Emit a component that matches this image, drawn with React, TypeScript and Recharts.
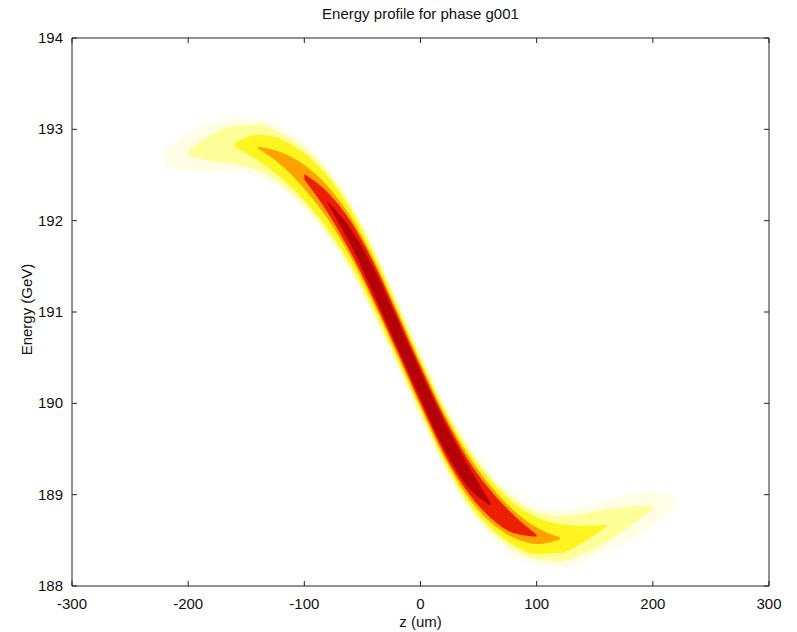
import { ComposedChart, Area, XAxis, YAxis } from 'recharts';

const Z_POSITIONS = [
  -220, -200, -180, -160, -140, -120, -100, -80, -60, -40, -20, 0,
  20, 40, 60, 80, 100, 120, 140, 160, 180, 200, 220,
];

// centre of the density band (GeV)
const ENERGY_CENTER = [
  192.7, 192.74, 192.8, 192.83, 192.8, 192.68, 192.48, 192.2, 191.82, 191.33, 190.77, 190.2,
  189.66, 189.22, 188.9, 188.68, 188.55, 188.52, 188.57, 188.66, 188.76, 188.86, 188.92,
];

// half height of each density level (GeV), null where the level is not seen
const HALO_HALF = [
  0.09, 0.21, 0.26, 0.29, 0.31, 0.34, 0.37, 0.39, 0.4, 0.4, 0.38, 0.37,
  0.37, 0.37, 0.36, 0.34, 0.32, 0.31, 0.3, 0.28, 0.25, 0.18, 0.05,
];
const LIGHT_HALF = [
  null, 0.03, 0.15, 0.21, 0.25, 0.28, 0.31, 0.34, 0.35, 0.35, 0.33, 0.32,
  0.32, 0.32, 0.3, 0.28, 0.26, 0.25, 0.22, 0.18, 0.11, 0.02, null,
];
const YELLOW_HALF = [
  null, null, null, 0.02, 0.14, 0.21, 0.26, 0.29, 0.3, 0.3, 0.29, 0.28,
  0.28, 0.28, 0.26, 0.23, 0.2, 0.16, 0.09, 0.01, null, null, null,
];
const ORANGE_HALF = [
  null, null, null, null, 0.01, 0.07, 0.13, 0.18, 0.22, 0.24, 0.24, 0.24,
  0.24, 0.23, 0.2, 0.15, 0.09, 0.01, null, null, null, null, null,
];
const RED_HALF = [
  null, null, null, null, null, null, 0.03, 0.11, 0.17, 0.2, 0.2, 0.2,
  0.2, 0.18, 0.15, 0.1, 0.01, null, null, null, null, null, null,
];
const CORE_HALF = [
  null, null, null, null, null, null, null, 0.01, 0.09, 0.14, 0.15, 0.15,
  0.15, 0.12, 0.02, null, null, null, null, null, null, null, null,
];

const X_TICKS = [-300, -200, -100, 0, 100, 200, 300];
const Y_TICKS = [188, 189, 190, 191, 192, 193, 194];

const LEVELS = [
  { key: 'halo', half: HALO_HALF, color: '#fffde4' },
  { key: 'light', half: LIGHT_HALF, color: '#ffff9a' },
  { key: 'yellow', half: YELLOW_HALF, color: '#fff51e' },
  { key: 'orange', half: ORANGE_HALF, color: '#ffa200' },
  { key: 'red', half: RED_HALF, color: '#ec2000' },
  { key: 'core', half: CORE_HALF, color: '#b50008' },
];

const data = Z_POSITIONS.map((z, i) => {
  const row: any = { z };
  LEVELS.forEach((lvl) => {
    const h = lvl.half[i];
    row[lvl.key] = h == null ? null : [ENERGY_CENTER[i] - h, ENERGY_CENTER[i] + h];
  });
  return row;
});

const FONT = '"Liberation Sans", Arial, sans-serif';
const TICK_LEN = 5;

const BottomTick = ({ x, y, payload }: any) => (
  <g>
    <line x1={x} y1={y} x2={x} y2={y - TICK_LEN} stroke="#222" />
    <text x={x} y={y + 23} textAnchor="middle" fontSize={15} fontFamily={FONT} fill="#111">
      {payload.value}
    </text>
  </g>
);

const TopTick = ({ x, y }: any) => (
  <line x1={x} y1={y} x2={x} y2={y + TICK_LEN} stroke="#222" />
);

const LeftTick = ({ x, y, payload }: any) => (
  <g>
    <line x1={x} y1={y} x2={x + TICK_LEN} y2={y} stroke="#222" />
    <text x={x - 9} y={y + 5} textAnchor="end" fontSize={15} fontFamily={FONT} fill="#111">
      {payload.value}
    </text>
  </g>
);

const RightTick = ({ x, y }: any) => (
  <line x1={x} y1={y} x2={x - TICK_LEN} y2={y} stroke="#222" />
);

export default function App() {
  return (
    <div style={{ position: 'relative', width: 797, height: 632, background: '#fff' }}>
      <style>{'body { margin: 0; }'}</style>
      <ComposedChart
        width={797}
        height={632}
        data={data}
        margin={{ top: 37, right: 27, bottom: 16, left: 12 }}
      >
        <XAxis
          dataKey="z"
          type="number"
          domain={[-300, 300]}
          ticks={X_TICKS}
          height={30}
          tickSize={0}
          tickMargin={0}
          tickLine={false}
          tick={<BottomTick />}
          axisLine={{ stroke: '#222' }}
          allowDataOverflow
        />
        <XAxis
          xAxisId="top"
          orientation="top"
          dataKey="z"
          type="number"
          domain={[-300, 300]}
          ticks={X_TICKS}
          height={1}
          tickSize={0}
          tickMargin={0}
          tickLine={false}
          tick={<TopTick />}
          axisLine={{ stroke: '#222' }}
          allowDataOverflow
        />
        <YAxis
          type="number"
          domain={[188, 194]}
          ticks={Y_TICKS}
          width={60}
          tickSize={0}
          tickMargin={0}
          tickLine={false}
          tick={<LeftTick />}
          axisLine={{ stroke: '#222' }}
          allowDataOverflow
        />
        <YAxis
          yAxisId="right"
          orientation="right"
          type="number"
          domain={[188, 194]}
          ticks={Y_TICKS}
          width={1}
          tickSize={0}
          tickMargin={0}
          tickLine={false}
          tick={<RightTick />}
          axisLine={{ stroke: '#222' }}
          allowDataOverflow
        />
        {LEVELS.map((lvl) => (
          <Area
            key={lvl.key}
            dataKey={lvl.key}
            type="monotone"
            stroke="none"
            fill={lvl.color}
            fillOpacity={1}
            dot={false}
            activeDot={false}
            isAnimationActive={false}
          />
        ))}
      </ComposedChart>
      <div
        style={{
          position: 'absolute', left: 72, width: 697, top: 5, textAlign: 'center',
          fontFamily: FONT, fontSize: 15, color: '#111',
        }}
      >
        Energy profile for phase g001
      </div>
      <div
        style={{
          position: 'absolute', left: 72, width: 697, top: 613, textAlign: 'center',
          fontFamily: FONT, fontSize: 15, color: '#111', lineHeight: '17px',
        }}
      >
        z (um)
      </div>
      <div
        style={{
          position: 'absolute', left: 26, top: 310, width: 0, height: 0,
        }}
      >
        <div
          style={{
            position: 'absolute', left: -80, top: -9, width: 160, textAlign: 'center',
            transform: 'rotate(-90deg)', fontFamily: FONT, fontSize: 15, color: '#111',
            whiteSpace: 'nowrap',
          }}
        >
          Energy (GeV)
        </div>
      </div>
    </div>
  );
}
